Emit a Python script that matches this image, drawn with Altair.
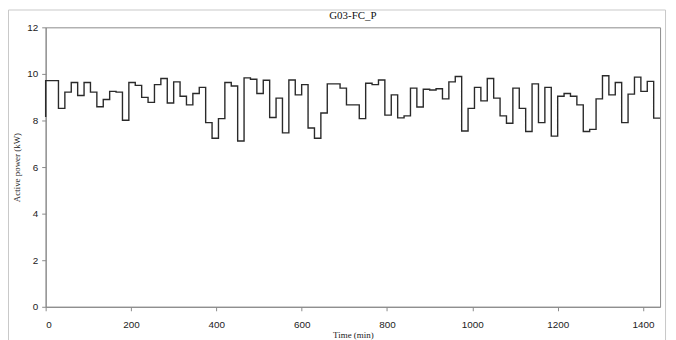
import altair as alt
import pandas as pd

# 15-minute active power profile (kW)
power_kw = [
    9.71, 9.71, 8.52, 9.22, 9.63, 9.07, 9.63, 9.22, 8.59, 8.90,
    9.25, 9.22, 8.01, 9.63, 9.51, 8.99, 8.78, 9.54, 9.80, 8.75,
    9.66, 9.04, 8.67, 9.16, 9.42, 7.91, 7.24, 8.08, 9.63, 9.48,
    7.12, 9.83, 9.77, 9.16, 9.73, 8.13, 8.96, 7.47, 9.74, 9.10,
    9.54, 7.68, 7.24, 8.32, 9.57, 9.57, 9.39, 8.67, 8.67, 8.08,
    9.60, 9.54, 9.74, 8.23, 9.10, 8.11, 8.20, 9.39, 8.58, 9.34,
    9.31, 9.36, 8.93, 9.66, 9.89, 7.55, 8.52, 9.42, 8.84, 9.80,
    8.96, 8.20, 7.88, 9.39, 8.52, 7.53, 9.57, 7.91, 9.42, 7.33,
    9.04, 9.16, 9.04, 8.67, 7.53, 7.62, 8.93, 9.92, 9.10, 9.63,
    7.91, 9.13, 9.86, 9.25, 9.68, 8.10,
]
start_value = 8.15          # value drawn at t = 0 before the first step
step_min = 15
day_end = 1440
x_ticks = [0, 200, 400, 600, 800, 1000, 1200, 1400]
y_ticks = [0, 2, 4, 6, 8, 10, 12]
chart_title = "G03-FC_P"

times = [0] + list(range(0, day_end, step_min)) + [day_end]
vals = [start_value] + power_kw + [power_kw[-1]]
df = pd.DataFrame({"t": times, "p": vals, "idx": list(range(len(times)))})

SERIF = "Liberation Serif"
SANS = "Liberation Sans"
W, H = 620, 282

line = alt.Chart(df).mark_line(
    interpolate="step-after", color="#2a2a2a", strokeWidth=1.4
).encode(
    x=alt.X("t:Q",
            scale=alt.Scale(domain=[0, day_end], nice=False, zero=False),
            axis=alt.Axis(values=x_ticks, format="d", title="Time (min)", labelPadding=9,
                          titleY=28, titleBaseline="middle", titleFontSize=9)),
    y=alt.Y("p:Q",
            scale=alt.Scale(domain=[0, 12], nice=False),
            axis=alt.Axis(values=y_ticks, title="Active power (kW)", labelPadding=4,
                          titleX=-29, titleY=141, titleAngle=270,
                          titleAlign="center", titleBaseline="middle", titleFontSize=9)),
    order="idx:Q",
)

one = pd.DataFrame({"a": [0]})

frame = alt.Chart(one).mark_rect(
    fillOpacity=0, stroke="#c8c8c8", strokeWidth=1
).encode(
    x=alt.value(-37.5), x2=alt.value(625.5), y=alt.value(-17.5), y2=alt.value(330)
)

title = alt.Chart(one).mark_text(
    font=SERIF, fontSize=11, color="#111", align="center", baseline="alphabetic"
).encode(
    x=alt.value(W / 2), y=alt.value(-8), text=alt.value(chart_title)
)

chart = alt.layer(frame, line, title).properties(
    width=W, height=H,
    autosize=alt.AutoSizeParams(type="none"),
    padding={"left": 38, "top": 18, "right": 8, "bottom": 32},
).configure_view(
    stroke="#8a8a8a", strokeWidth=1
).configure_axis(
    grid=False, domainColor="#8a8a8a", tickColor="#8a8a8a", tickSize=4,
    labelFont=SANS, labelFontSize=10, labelColor="#222",
    titleFont=SERIF, titleFontWeight="normal", titleColor="#222",
)

chart.save("out.html", embed_options={"renderer": "svg", "actions": False})
